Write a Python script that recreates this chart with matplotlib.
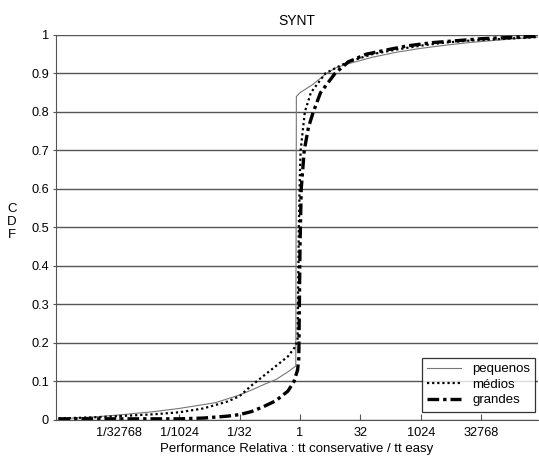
import matplotlib
matplotlib.use('Agg')
import matplotlib.pyplot as plt
import numpy as np

plt.rcParams['font.family'] = ['Liberation Sans', 'DejaVu Sans']

# curvas CDF, eixo x em log2 da razao tt conservative / tt easy
peq_log2 = [-20, -17, -15, -12, -10, -7, -5, -4, -3, -2, -1, -0.35, -0.3, 0, 1, 2.2,
            3, 4, 6, 8, 10, 12, 14, 17, 20]
peq_cdf = [0.003, 0.008, 0.013, 0.022, 0.03, 0.045, 0.065, 0.078, 0.092, 0.105, 0.125,
           0.14, 0.84, 0.85, 0.87, 0.90, 0.915, 0.925, 0.942, 0.955, 0.965, 0.973,
           0.98, 0.988, 0.995]

med_log2 = [-20, -17, -15, -12, -10, -8, -6, -5, -4, -3, -2, -1, -0.4, -0.2, -0.1, 0,
            0.05, 0.4, 0.9, 2.1, 3, 4, 5, 6, 8, 10, 12, 14, 17, 20]
med_cdf = [0.004, 0.007, 0.01, 0.015, 0.02, 0.03, 0.048, 0.062, 0.09, 0.115, 0.14,
           0.165, 0.19, 0.21, 0.5, 0.65, 0.7, 0.8, 0.85, 0.9, 0.915, 0.93, 0.94,
           0.95, 0.962, 0.972, 0.98, 0.985, 0.99, 0.995]

gra_log2 = [-20, -15, -10, -8, -6, -5, -4, -3, -2, -1, -0.5, -0.2, -0.1, 0, 0.1,
            0.35, 0.7, 1.1, 1.7, 2.9, 4, 5.5, 7.5, 9, 11, 15, 20]
gra_cdf = [0.003, 0.003, 0.003, 0.005, 0.01, 0.014, 0.022, 0.035, 0.05, 0.075, 0.1,
           0.13, 0.16, 0.45, 0.6, 0.7, 0.76, 0.8, 0.85, 0.9, 0.93, 0.95, 0.963,
           0.972, 0.98, 0.99, 0.997]

tick_pos = [-15, -10, -5, 0, 5, 10, 15]
tick_lab = ['1/32768', '1/1024', '1/32', '1', '32', '1024', '32768']

fig = plt.figure(figsize=(5.39, 4.59), dpi=100)
ax = fig.add_axes([0.104, 0.085, 0.894, 0.839])

ax.plot(2.0 ** np.array(peq_log2), peq_cdf, color='#777777', lw=0.8, label='pequenos')
ax.plot(2.0 ** np.array(med_log2), med_cdf, color='black', lw=1.6, ls=(0, (1, 1.3)),
        label='médios')
ax.plot(2.0 ** np.array(gra_log2), gra_cdf, color='black', lw=2.4,
        ls=(0, (3.5, 1.2, 1, 1.2)), label='grandes')

ax.set_xscale('log', base=2)
ax.set_xlim(2.0 ** -20.2, 2.0 ** 19.7)
ax.set_ylim(0, 1)
ax.set_xticks([2.0 ** p for p in tick_pos])
ax.set_xticklabels(tick_lab)
ax.xaxis.set_minor_locator(matplotlib.ticker.NullLocator())
ax.set_yticks(np.arange(0, 1.01, 0.1))
ax.set_yticklabels(['0', '0.1', '0.2', '0.3', '0.4', '0.5', '0.6', '0.7', '0.8', '0.9', '1'])

ax.yaxis.grid(True, color='#555555', lw=1)
ax.set_axisbelow(True)
for s in ['top', 'right']:
    ax.spines[s].set_visible(False)
ax.spines['left'].set_color('#555555')
ax.spines['bottom'].set_color('#555555')
ax.tick_params(axis='x', direction='in', length=4, color='#555555', labelsize=9.2, pad=5)
ax.tick_params(axis='y', direction='out', length=2, color='#555555', labelsize=9.2, pad=3)

ax.set_title('SYNT', fontsize=10, pad=7)
ax.set_xlabel('Performance Relativa : tt conservative / tt easy', fontsize=9.5, labelpad=3)
fig.text(12 / 539, 1 - 222 / 459, 'C\nD\nF', fontsize=9.5, ha='center', va='center',
         linespacing=1.15)

leg = ax.legend(loc='lower right', bbox_to_anchor=(1.0, 0.015), fontsize=9.5,
                frameon=True, fancybox=False, handlelength=2.6, handletextpad=0.8,
                borderpad=0.4, labelspacing=0.25, borderaxespad=0.2)
leg.get_frame().set_edgecolor('black')
leg.get_frame().set_linewidth(0.9)

fig.savefig('out.png', dpi=100)
